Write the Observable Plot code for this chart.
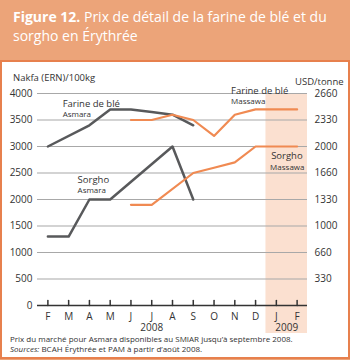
<!DOCTYPE html>
<html><head><meta charset="utf-8">
<script src="https://cdn.jsdelivr.net/npm/d3@7"></script>
<script src="https://cdn.jsdelivr.net/npm/@observablehq/plot@0.6"></script>
<style>
html,body{margin:0;padding:0;}
body{width:350px;height:360px;background:#eca479;position:relative;overflow:hidden;font-family:"Open Sans",sans-serif;}
#title{position:absolute;left:13px;top:7px;color:#fff;font-size:14px;line-height:19px;white-space:nowrap;}
#title b{font-weight:700;}
#panel{position:absolute;left:0;top:60px;width:346px;height:295px;background:#fff;border:2px solid #e7804d;}
#chart{position:absolute;left:0;top:62px;}
.axt{position:absolute;font-size:9.5px;color:#333;white-space:nowrap;}
#notes{position:absolute;left:10px;top:334px;font-size:8px;line-height:10px;color:#333;white-space:nowrap;}
</style></head>
<body>
<div id="title"><b>Figure 12.</b> Prix de détail de la farine de blé et du<br>sorgho en Érythrée</div>
<div id="panel"></div>
<div id="chart"></div>
<div class="axt" style="left:13px;top:71px;">Nakfa (ERN)/100kg</div>
<div class="axt" style="left:295px;top:75px;">USD/tonne</div>
<div id="notes">Prix du marché pour Asmara disponibles au SMIAR jusqu’à septembre 2008.<br><i>Sources:</i> BCAH Érythrée et PAM à partir d’août 2008.</div>
<script>
const months = ["F","M","A","M","J","J","A","S","O","N","D","J","F"];
const years = [{label:"2008", at:5}, {label:"2009", at:11.5}];
const shadedMonths = [11, 12];
const nakfaTicks = [0,500,1000,1500,2000,2500,3000,3500,4000];
const usdTicks = ["","330","660","1000","1330","1660","2000","2330","2660"];

const wheatAsmara    = [3000, null, 3400, 3700, 3700, 3650, 3600, 3400, null, null, null, null, null];
const sorghumAsmara  = [1300, 1300, 2000, 2000, null, null, 3000, 2000, null, null, null, null, null];
const wheatMassawa   = [null, null, null, null, 3500, 3500, 3600, 3500, 3200, 3600, 3700, 3700, 3700];
const sorghumMassawa = [null, null, null, null, 1900, 1900, null, 2500, 2600, 2700, 3000, 3000, 3000];

const seriesLabels = [
  {text:"Farine de blé", x:0.71, y:3800, size:9.5},
  {text:"Asmara", x:0.71, y:3610, size:8},
  {text:"Sorgho", x:1.43, y:2360, size:9.5},
  {text:"Asmara", x:1.43, y:2165, size:8},
  {text:"Farine de blé", x:8.82, y:4055, size:9.5},
  {text:"Massawa", x:8.82, y:3857, size:8},
  {text:"Sorgho", x:10.75, y:2825, size:9.5},
  {text:"Massawa", x:10.7, y:2611, size:8}
];

const rows = vals => vals.map((v,i)=>({x:i, y:v})).filter(d => d.y != null);
const idx = months.map((m,i)=>i);
const tickShape = {draw(context, l){ context.moveTo(0,0); context.lineTo(0,-l); }};
const dark = "#58595b", orange = "#f08a52";

const chart = Plot.plot({
  width:350, height:275,
  marginTop:31, marginBottom:32, marginLeft:37, marginRight:43,
  x:{domain:[-0.5,12.5], axis:null},
  y:{domain:[0,4000], axis:null},
  style:{fontFamily:"Open Sans", fontSize:"10px", color:"#333", background:"transparent"},
  marks:[
    Plot.rect([{x1:d3.min(shadedMonths)-0.5, x2:d3.max(shadedMonths)+0.5}], {x1:"x1", x2:"x2", fill:"#fbe0d0", insetBottom:-28}),
    Plot.gridY(nakfaTicks.filter(v=>v>0), {stroke:"#a8a8a8", strokeOpacity:1, strokeWidth:1.2}),
    Plot.axisY(nakfaTicks, {anchor:"left", label:null, tickSize:0, tickPadding:5, tickFormat: v => String(v)}),
    Plot.axisY(nakfaTicks.filter(v=>v>0), {anchor:"right", label:null, tickSize:0, tickPadding:7, textAnchor:"start", tickFormat: v => usdTicks[nakfaTicks.indexOf(v)]}),
    Plot.ruleY([0], {stroke:"#333", strokeWidth:1.5}),
    Plot.vector(idx, {x:d=>d, y:0, length:5, anchor:"start", shape:tickShape, stroke:"#333", strokeWidth:1.5}),
    Plot.axisX(idx, {label:null, tickSize:0, tickPadding:7, tickFormat: i => months[i]}),
    Plot.text(years, {x:"at", y:0, text:"label", dy:22}),
    Plot.line(rows(wheatAsmara), {x:"x", y:"y", stroke:dark, strokeWidth:2.5}),
    Plot.line(rows(sorghumAsmara), {x:"x", y:"y", stroke:dark, strokeWidth:2.5}),
    Plot.line(rows(wheatMassawa), {x:"x", y:"y", stroke:orange, strokeWidth:2.2}),
    Plot.line(rows(sorghumMassawa), {x:"x", y:"y", stroke:orange, strokeWidth:2.2}),
    Plot.text(seriesLabels, {x:"x", y:"y", text:"text", fontSize:"size", textAnchor:"start", fill:"#333"})
  ]
});
document.getElementById("chart").appendChild(chart);
</script>
</body></html>
